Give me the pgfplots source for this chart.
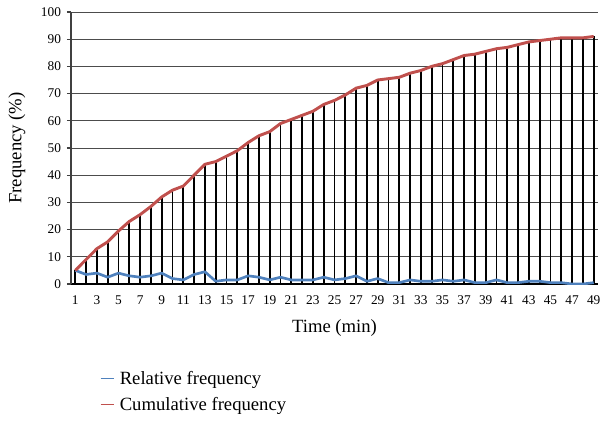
\documentclass[border=0pt]{standalone}
\usepackage{pgfplots}
\pgfplotsset{compat=1.18}
\usepackage{pgfplotstable}
\usepackage{fontspec}
\setmainfont{Liberation Serif}

\definecolor{relblue}{RGB}{79,129,189}
\definecolor{cumred}{RGB}{192,80,77}

\pgfplotstableread{
t rel cum
1 5 5
2 3.5 9
3 4 13
4 2.5 15.5
5 4 19.5
6 3 23
7 2.5 25.5
8 3 28.5
9 4 32
10 2 34.5
11 1.5 36
12 3.5 40
13 4.5 44
14 1 45
15 1.5 47
16 1.5 49
17 3 52
18 2.5 54.5
19 1.5 56
20 2.5 59
21 1.5 60.5
22 1.5 62
23 1.5 63.5
24 2.5 66
25 1.5 67.5
26 2 69.5
27 3 72
28 1 73
29 2 75
30 0.5 75.5
31 0.5 76
32 1.5 77.5
33 1 78.5
34 1 80
35 1.5 81
36 1 82.5
37 1.5 84
38 0.5 84.5
39 0.5 85.5
40 1.5 86.5
41 0.5 87
42 0.5 88
43 1 89
44 1 89.5
45 0.5 90
46 0.5 90.5
47 0 90.5
48 0 90.5
49 0.5 91
}\datatable

\begin{document}
\begin{tikzpicture}
% page size: 602x421 px at 0.75pt per px, axis box at (0,0)
\useasboundingbox (-53.25pt,-102.75pt) rectangle (398.25pt,213pt);
\begin{axis}[
    at={(0,0)}, anchor=south west,
    scale only axis,
    width=395.25pt,
    height=204pt,
    xmin=0.6, xmax=49.4,
    ymin=0, ymax=100,
    ytick={0,10,...,100},
    xtick={1,3,...,49},
    axis x line=bottom,
    axis y line=left,
    axis line style={-, line width=0.8pt, black!75},
    x axis line style={black},
    ymajorgrids=true,
    grid style={line width=0.7pt, black!70},
    tick align=outside,
    major tick length=3pt,
    xtick style={draw=none},
    ytick style={line width=0.8pt, black!75},
    ticklabel style={font=\fontsize{10}{12}\selectfont},
    yticklabel style={xshift=-1pt},
    xticklabel style={yshift=-2pt},
    /pgf/number format/assume math mode=true,
    xlabel={Time (min)},
    ylabel={Frequency (\%)},
    label style={font=\fontsize{14}{16}\selectfont},
    xlabel style={at={(axis description cs:0.5,-0.162)}, anchor=center},
    ylabel style={at={(axis description cs:-0.1025,0.5)}, anchor=center},
    legend style={at={(axis description cs:0.055,-0.31)}, anchor=north west,
        draw=none, fill=none, inner sep=0pt,
        font=\fontsize{14}{16}\selectfont, row sep=4pt,
        legend cell align=left,
        /tikz/every odd column/.append style={column sep=2pt}},
    legend image code/.code={\draw[line width=0.7pt] (0cm,0cm) -- (0.35cm,0cm);},
]
\addplot[ycomb, black, line width=1.4pt, forget plot] table[x=t, y=cum] {\datatable};
\addplot[relblue, line width=2pt, line join=round] table[x=t, y=rel] {\datatable};
\addlegendentry{Relative frequency}
\addplot[cumred, line width=2.2pt, line join=round] table[x=t, y=cum] {\datatable};
\addlegendentry{Cumulative frequency}
\end{axis}
\end{tikzpicture}
\end{document}
